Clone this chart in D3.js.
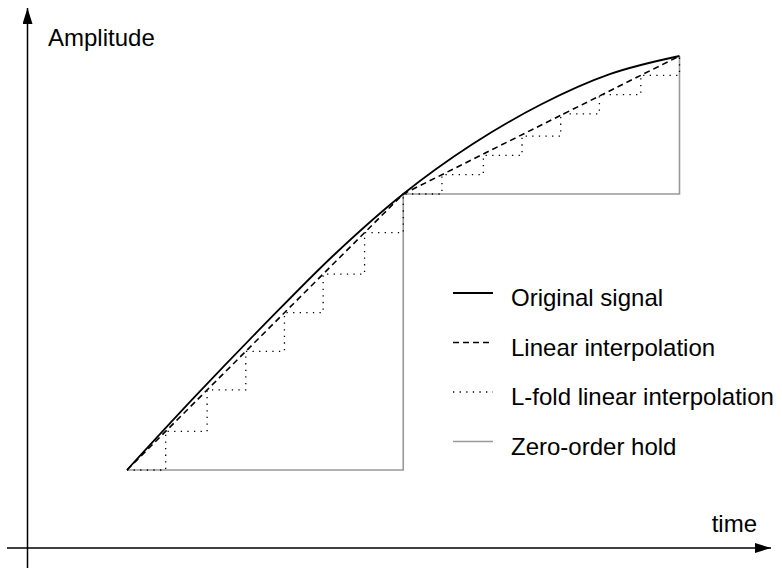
<!DOCTYPE html>
<html>
<head>
<meta charset="utf-8">
<script src="https://cdn.jsdelivr.net/npm/d3@7"></script>
<style>
  body { margin: 0; background: #fff; }
  text { font-family: "Liberation Sans", Arial, sans-serif; }
</style>
</head>
<body>
<div id="container"></div>
<script>
// CONSTANTS AND GLOBALS
const width = 782,
  height = 568;

// axis frame (pixel positions of the two arrows)
const axisX = 27.5,   // vertical amplitude axis
  axisY = 548;        // horizontal time axis

// DATA (time in sample periods, amplitude in units of the first step)
const sampleTimes = [0, 1, 2];
const sampleValues = [0, 1, 1.5];

const signalTimes = [0, 0.25, 0.5, 0.75, 1, 1.25, 1.5, 1.75, 2];
const signalValues = [0, 0.27, 0.53, 0.78, 1.0, 1.18, 1.325, 1.435, 1.5];

const lfoldTimes = [0, 0.14, 0.29, 0.43, 0.57, 0.71, 0.86, 1, 1.14, 1.29, 1.43, 1.57, 1.71, 1.86, 2];
const lfoldValues = [0, 0.14, 0.29, 0.43, 0.57, 0.71, 0.86, 1, 1.07, 1.14, 1.21, 1.29, 1.36, 1.43, 1.5];

const legendLabels = ["Original signal", "Linear interpolation", "L-fold linear interpolation", "Zero-order hold"];

// + SCALES
const xScale = d3.scaleLinear()
  .domain([0, 2])
  .range([127, 679.5]);

const yScale = d3.scaleLinear()
  .domain([0, 1.5])
  .range([470, 56]);

// CREATE SVG ELEMENT
const svg = d3.select("#container")
  .append("svg")
  .attr("width", width)
  .attr("height", height);

svg.append("defs").append("marker")
  .attr("id", "arrow")
  .attr("viewBox", "0 0 16 10")
  .attr("refX", 16)
  .attr("refY", 5)
  .attr("markerWidth", 16)
  .attr("markerHeight", 10)
  .attr("markerUnits", "userSpaceOnUse")
  .attr("orient", "auto")
  .append("path")
  .attr("d", "M0,0 L16,5 L0,10 Z")
  .attr("fill", "#000");

// AXES
svg.append("line")
  .attr("x1", 7).attr("y1", axisY)
  .attr("x2", 771).attr("y2", axisY)
  .attr("stroke", "#000")
  .attr("stroke-width", 1.5)
  .attr("marker-end", "url(#arrow)");

svg.append("line")
  .attr("x1", axisX).attr("y1", height)
  .attr("x2", axisX).attr("y2", 8)
  .attr("stroke", "#000")
  .attr("stroke-width", 1.5)
  .attr("marker-end", "url(#arrow)");

svg.append("text")
  .attr("x", 48)
  .attr("y", 46)
  .attr("font-size", 24)
  .text("Amplitude");

svg.append("text")
  .attr("x", 757)
  .attr("y", 532)
  .attr("text-anchor", "end")
  .attr("font-size", 24)
  .text("time");

// LINES
const zoh = d3.line()
  .x(d => xScale(d[0]))
  .y(d => yScale(d[1]))
  .curve(d3.curveStepAfter);

const straight = d3.line()
  .x(d => xScale(d[0]))
  .y(d => yScale(d[1]));

const smooth = d3.line()
  .x(d => xScale(d[0]))
  .y(d => yScale(d[1]))
  .curve(d3.curveMonotoneX);

const styles = [
  { stroke: "#000", width: 1.8, dash: null },
  { stroke: "#000", width: 1.6, dash: "6,4" },
  { stroke: "#000", width: 1.3, dash: "1.3,5.3" },
  { stroke: "#999", width: 1.6, dash: null }
];

// zero-order hold
svg.append("path")
  .datum(d3.zip(sampleTimes, sampleValues))
  .attr("fill", "none")
  .attr("stroke", styles[3].stroke)
  .attr("stroke-width", styles[3].width)
  .attr("d", zoh);

// L-fold linear interpolation
svg.append("path")
  .datum(d3.zip(lfoldTimes, lfoldValues))
  .attr("fill", "none")
  .attr("stroke", styles[2].stroke)
  .attr("stroke-width", styles[2].width)
  .attr("stroke-dasharray", styles[2].dash)
  .attr("d", zoh);

// linear interpolation
svg.append("path")
  .datum(d3.zip(sampleTimes, sampleValues))
  .attr("fill", "none")
  .attr("stroke", styles[1].stroke)
  .attr("stroke-width", styles[1].width)
  .attr("stroke-dasharray", styles[1].dash)
  .attr("d", straight);

// original signal
svg.append("path")
  .datum(d3.zip(signalTimes, signalValues))
  .attr("fill", "none")
  .attr("stroke", styles[0].stroke)
  .attr("stroke-width", styles[0].width)
  .attr("d", smooth);

// LEGEND
const legend = svg.append("g")
  .selectAll("g")
  .data(legendLabels)
  .join("g")
  .attr("transform", (d, i) => `translate(453, ${293 + i * 49.5})`);

legend.append("line")
  .attr("x1", 0).attr("x2", 40)
  .attr("stroke", (d, i) => styles[i].stroke)
  .attr("stroke-width", (d, i) => styles[i].width)
  .attr("stroke-dasharray", (d, i) => styles[i].dash);

legend.append("text")
  .attr("x", 58)
  .attr("y", 13)
  .attr("font-size", 24)
  .text(d => d);
</script>
</body>
</html>
